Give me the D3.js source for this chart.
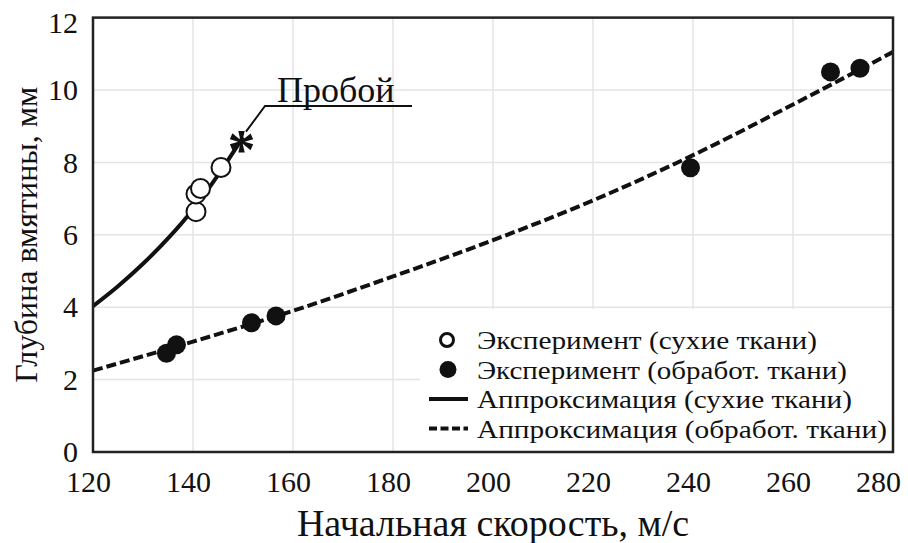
<!DOCTYPE html>
<html>
<head>
<meta charset="utf-8">
<script src="https://cdn.jsdelivr.net/npm/d3@7"></script>
<style>
body { margin: 0; background: #fff; }
text { font-family: "Liberation Serif", "Times New Roman", serif; fill: #111; }
</style>
</head>
<body>
<script>
// experimental points, dry fabric (open circles)
var dryV = [140.6, 140.6, 141.5, 145.6];
var dryDepth = [6.64, 7.13, 7.28, 7.86];

// experimental points, treated fabric (filled circles)
var wetV = [134.7, 136.7, 151.7, 156.6, 239.5, 267.5, 273.4];
var wetDepth = [2.73, 2.96, 3.57, 3.76, 7.85, 10.5, 10.6];

// approximation curves
var dryFitV = [120, 125, 130, 135, 140, 145, 150];
var dryFitDepth = [4.03, 4.58, 5.2, 5.9, 6.7, 7.65, 8.7];
var wetFitV = [120, 140, 160, 180, 200, 220, 240, 260, 280];
var wetFitDepth = [2.25, 3.05, 3.9, 4.85, 5.85, 6.95, 8.2, 9.6, 11.05];

// breakdown mark and its leader
var breakV = 149.7, breakDepth = 8.62;
var leaderV = [150.6, 154.4, 183.8];
var leaderDepth = [8.85, 9.56, 9.56];
var breakLabel = "Пробой";

var xTicks = [120, 140, 160, 180, 200, 220, 240, 260, 280];
var yTicks = [0, 2, 4, 6, 8, 10, 12];
var xTitle = "Начальная скорость, м/с";
var yTitle = "Глубина вмятины, мм";
var legendLabels = [
    "Эксперимент (сухие ткани)",
    "Эксперимент (обработ. ткани)",
    "Аппроксимация (сухие ткани)",
    "Аппроксимация (обработ. ткани)"
];

var svgWidth = 908;
var svgHeight = 543;
var margin = {top: 17.6, left: 93};
var chartWidth = 800;
var chartHeight = 434.4;

var svg = d3.select("body").append("svg")
    .attr("width", svgWidth)
    .attr("height", svgHeight);

svg.append("rect").attr("width", svgWidth).attr("height", svgHeight).attr("fill", "#fff");

var chart = svg.append("g")
    .attr("transform", `translate(${margin.left}, ${margin.top})`);

var x = d3.scaleLinear().domain([120, 280]).range([0, chartWidth]);
var y = d3.scaleLinear().domain([0, 12]).range([chartHeight, 0]);

// grid
chart.append("g").selectAll("line")
    .data(xTicks.slice(1, -1))
    .enter().append("line")
    .attr("x1", d => x(d)).attr("x2", d => x(d))
    .attr("y1", 0).attr("y2", chartHeight)
    .attr("stroke", "#e4e4e4").attr("stroke-width", 1.5);
chart.append("g").selectAll("line")
    .data(yTicks.slice(1, -1))
    .enter().append("line")
    .attr("x1", 0).attr("x2", chartWidth)
    .attr("y1", d => y(d)).attr("y2", d => y(d))
    .attr("stroke", "#e4e4e4").attr("stroke-width", 1.5);

// tick labels
var xAxis = chart.append("g")
    .attr("transform", `translate(0, ${chartHeight})`)
    .call(d3.axisBottom(x).tickValues(xTicks).tickSize(0).tickFormat(d3.format("d")));
xAxis.select(".domain").remove();
xAxis.selectAll("text")
    .attr("y", 29).attr("dy", "0.35em")
    .attr("dx", d => d === 280 ? -15 : -5)
    .style("font-size", "30px").style("font-family", "Liberation Serif, serif").attr("fill", "#111");

var yAxis = chart.append("g")
    .call(d3.axisLeft(y).tickValues(yTicks).tickSize(0).tickPadding(15).tickFormat(d3.format("d")));
yAxis.select(".domain").remove();
yAxis.selectAll("text")
    .attr("y", d => d === 12 ? 5 : 0)
    .style("font-size", "30px").style("font-family", "Liberation Serif, serif").attr("fill", "#111");

// curves
var line = d3.line()
    .x(d => x(d[0]))
    .y(d => y(d[1]))
    .curve(d3.curveMonotoneX);

chart.append("path")
    .datum(wetFitV.map((v, i) => [v, wetFitDepth[i]]))
    .attr("d", line)
    .attr("fill", "none").attr("stroke", "#111")
    .attr("stroke-width", 4).attr("stroke-dasharray", "10,4");

chart.append("path")
    .datum(dryFitV.map((v, i) => [v, dryFitDepth[i]]))
    .attr("d", line)
    .attr("fill", "none").attr("stroke", "#111").attr("stroke-width", 4);

// points
chart.selectAll("circle.wet")
    .data(wetV.map((v, i) => [v, wetDepth[i]]))
    .enter().append("circle")
    .attr("class", "wet")
    .attr("cx", d => x(d[0])).attr("cy", d => y(d[1]))
    .attr("r", 9.5).attr("fill", "#111");

chart.selectAll("circle.dry")
    .data(dryV.map((v, i) => [v, dryDepth[i]]))
    .enter().append("circle")
    .attr("class", "dry")
    .attr("cx", d => x(d[0])).attr("cy", d => y(d[1]))
    .attr("r", 9.5).attr("fill", "#fff").attr("stroke", "#111").attr("stroke-width", 2);

// breakdown asterisk + leader
var star = chart.append("text")
    .text("*")
    .style("font-size", "56px")
    .style("font-weight", "bold");
var bb = star.node().getBBox();
star.attr("x", x(breakV) - bb.width / 2)
    .attr("y", y(breakDepth) - (bb.y + bb.height / 2) + 10);

chart.append("path")
    .datum(leaderV.map((v, i) => [v, leaderDepth[i]]))
    .attr("d", d3.line().x(d => x(d[0])).y(d => y(d[1])))
    .attr("fill", "none").attr("stroke", "#111").attr("stroke-width", 2);

chart.append("text")
    .attr("x", x(156.8)).attr("y", y(9.67))
    .style("font-size", "36px")
    .text(breakLabel);

// legend
var legend = chart.append("g")
    .attr("transform", `translate(${x(185.4)}, 0)`);
legend.append("rect")
    .attr("x", 0).attr("y", y(3.95))
    .attr("width", chartWidth - x(185.4)).attr("height", chartHeight - y(3.95))
    .attr("fill", "#fff");

// row centres and text widths measured on the reference
var rowY = [322.4, 351.9, 381.4, 410.9];
var rowWidth = [340, 370, 375, 410];
var rows = legend.selectAll("g.row")
    .data(legendLabels)
    .enter().append("g")
    .attr("class", "row")
    .attr("transform", (d, i) => `translate(0, ${rowY[i]})`);

rows.append("text")
    .attr("x", 57).attr("dy", "0.35em")
    .attr("textLength", (d, i) => rowWidth[i])
    .attr("lengthAdjust", "spacingAndGlyphs")
    .style("font-size", "26px")
    .text(d => d);

rows.filter((d, i) => i === 0).append("circle")
    .attr("cx", 27).attr("r", 6.5).attr("fill", "#fff").attr("stroke", "#111").attr("stroke-width", 3);
rows.filter((d, i) => i === 1).append("circle")
    .attr("cx", 28).attr("r", 8.5).attr("fill", "#111");
rows.filter((d, i) => i === 2).append("line")
    .attr("x1", 9).attr("x2", 48).attr("stroke", "#111").attr("stroke-width", 4);
rows.filter((d, i) => i === 3).append("line")
    .attr("x1", 9).attr("x2", 48).attr("stroke", "#111").attr("stroke-width", 4)
    .attr("stroke-dasharray", "8,3.5");

// frame
chart.append("rect")
    .attr("width", chartWidth).attr("height", chartHeight)
    .attr("fill", "none").attr("stroke", "#222").attr("stroke-width", 2.5);

// axis titles
svg.append("text")
    .attr("x", margin.left + chartWidth / 2).attr("y", 536)
    .attr("text-anchor", "middle")
    .style("font-size", "38px")
    .text(xTitle);

svg.append("text")
    .attr("transform", `translate(37, ${margin.top + chartHeight / 2}) rotate(-90)`)
    .attr("text-anchor", "middle")
    .style("font-size", "32px")
    .text(yTitle);
</script>
</body>
</html>
